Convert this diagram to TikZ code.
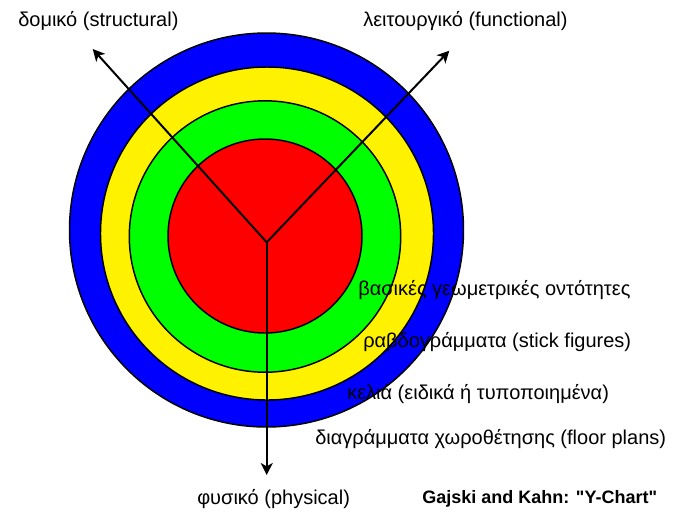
\documentclass[tikz,border=0pt]{standalone}
\usepackage{fontspec}
\setmainfont{Liberation Sans}[Ligatures=TeXOff]
\usepackage{tikz}
\usetikzlibrary{arrows.meta, positioning, calc}

\begin{document}
\begin{tikzpicture}[
    x=0.75pt, y=-0.75pt,
    % --- STYLES ---
    ring/.style={draw=black, line width=1.1pt},
    axis/.style={-{Stealth[length=9pt, width=9pt, inset=2.5pt]}, line width=1.5pt},
    label/.style={anchor=west, inner sep=0pt, font=\fontsize{15}{18}\selectfont},
    title/.style={anchor=west, inner sep=0pt, font=\fontsize{13.5}{16}\selectfont\bfseries}
]
\useasboundingbox (0,0) rectangle (677,512);

% ===== 1. RINGS =====
\fill[ring, fill=blue]   (266.5,230)   circle (197);
\fill[ring, fill=yellow] (267,233.5)   circle (166.5);
\fill[ring, fill=green]  (265,236.5)   circle (135.7);
\fill[ring, fill=red]    (265,236)     circle (97);

% ===== 2. COORDINATES =====
\coordinate (o) at (266.7,242.3);
\coordinate (structEnd) at (92.7,49);
\coordinate (funcEnd) at (449.3,50.7);
\coordinate (physEnd) at (266.7,475);

% ===== 3. AXES =====
\draw[axis] (o) -- (structEnd);
\draw[axis] (o) -- (funcEnd);
\draw[axis] (o) -- (physEnd);

% ===== 4. LABELS =====
\node[label] (struct) at (18,21) {δομικό (structural)};
\node[label] (func) at (363,21) {λειτουργικό (functional)};
\node[label] (phys) at (197,499) {φυσικό (physical)};
\node[title] (chart) at (422,499) {Gajski and Kahn: "Y-Chart"};

% levels
\node[label] (geom) at (358,290) {βασικές γεωμετρικές οντότητες};
\node[label] (stick) at (363,342) {ραβδογράμματα (stick figures)};
\node[label] (cells) at (347,394) {κελιά (ειδικά ή τυποποιημένα)};
\node[label] (floor) at (315,439) {διαγράμματα χωροθέτησης (floor plans)};

\end{tikzpicture}
\end{document}
